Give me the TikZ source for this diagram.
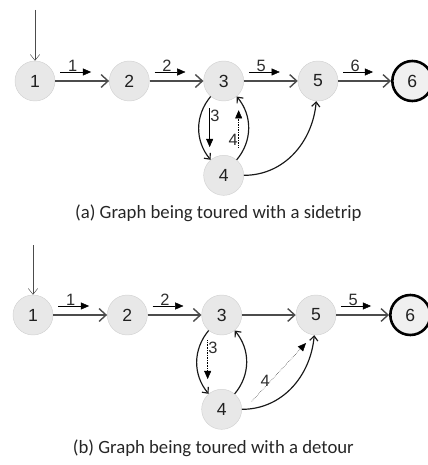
\documentclass[tikz,border=0pt]{standalone}
\usepackage{fontspec}
\setmainfont{Liberation Sans}
\newfontfamily\capfont{Carlito}
\usetikzlibrary{arrows.meta}
\usetikzlibrary{positioning}
\tikzset{
    vertex/.style={
           circle,
           fill=gray!18,
           draw=gray!35,
           minimum size=1.2cm,
           inner sep=0pt,
           text=gray!25!black,
           font=\fontsize{15}{18}\selectfont,
           },
    final/.style={vertex, draw=black, line width=2.2pt, fill=gray!12},
    trip/.style={draw=gray!60!black, line width=1.6pt,
           -{Straight Barb[length=6pt,width=11pt,line width=1.2pt]},
           postaction={draw=gray!45, line width=0.5pt, shorten >=3pt, -}},
    bent/.style={draw=gray!20!black, line width=1pt, -{Straight Barb[length=4pt,width=7pt]}},
    start/.style={draw=gray!60!black, thin, -{Straight Barb[length=5pt,width=8pt]}},
    tour/.style={black, thin, -{Triangle[length=7pt,width=6pt]}},
    lbl/.style={font=\fontsize{14}{16}\selectfont, text=gray!35!black, inner sep=0.5pt},
    caption/.style={font=\capfont\fontsize{16}{18}\selectfont, text=gray!30!black},
}

\begin{document}
\begin{tikzpicture}[node distance=2.83cm]
\useasboundingbox (0,0) rectangle (12.81,-13.95);

    % (a) tour with a sidetrip
    \node[vertex] at (1.05,-2.43) (A1) {1};
    \node[vertex,right of=A1] (A2) {2};
    \node[vertex,right of=A2] (A3) {3};
    \node[vertex,right of=A3] (A5) {5};
    \node[final,right of=A5]  (A6) {6};
    \node[vertex,below of=A3] (A4) {4};
    \coordinate (A0) at (1.05,-0.3);

    \draw[start] (A0) -- (A1);
    \path[trip] (A1) edge (A2) (A2) edge (A3) (A3) edge (A5) (A5) edge (A6);
    \draw[bent] (A3) to[bend right=40] (A4);
    \draw[bent] (A4) to[bend right=40] (A3);
    \draw[bent] (A4) to[out=0,in=-95] (A5);

    \foreach \a/\b/\n in {A1/A2/1, A2/A3/2, A3/A5/5, A5/A6/6}
        \draw[tour] ([shift={(0.15,0.27)}]\a.east)
            -- node[lbl,above,pos=.4]{\n} ([shift={(-0.54,0.27)}]\b.west);
    \draw[tour] ([shift={(-0.42,-0.21)}]A3.south)
        -- node[lbl,right,pos=.2]{3} ([shift={(-0.42,0.24)}]A4.north);
    \draw[tour,densely dotted] ([shift={(0.45,0.24)}]A4.north)
        -- node[lbl,left,pos=.2]{4} ([shift={(0.45,-0.27)}]A3.south);

    \node[caption] at (6.55,-6.39) (capA) {(a) Graph being toured with a sidetrip};

    % (b) tour with a detour
    \node[vertex] at (0.99,-9.45) (B1) {1};
    \node[vertex,right of=B1] (B2) {2};
    \node[vertex,right of=B2] (B3) {3};
    \node[vertex,right of=B3] (B5) {5};
    \node[final,right of=B5]  (B6) {6};
    \node[vertex,below of=B3] (B4) {4};
    \coordinate (B0) at (0.99,-7.35);

    \draw[start] (B0) -- (B1);
    \path[trip] (B1) edge (B2) (B2) edge (B3) (B3) edge (B5) (B5) edge (B6);
    \draw[bent] (B3) to[bend right=40] (B4);
    \draw[bent] (B4) to[bend right=40] (B3);
    \draw[bent] (B4) to[out=0,in=-95] (B5);

    \foreach \a/\b/\n in {B1/B2/1, B2/B3/2, B5/B6/5}
        \draw[tour] ([shift={(0.15,0.27)}]\a.east)
            -- node[lbl,above,pos=.4]{\n} ([shift={(-0.54,0.27)}]\b.west);
    \draw[tour,densely dotted] ([shift={(-0.42,-0.15)}]B3.south)
        -- node[lbl,right,pos=.2]{3} ([shift={(-0.42,0.3)}]B4.north);
    \draw[tour,densely dotted] ([shift={(0.9,0.24)}]B4.center)
        -- node[lbl,left,pos=.35]{4} ([shift={(-0.3,-0.84)}]B5.center);

    \node[caption] at (6.4,-13.44) (capB) {(b) Graph being toured with a detour};

\end{tikzpicture}
\end{document}
